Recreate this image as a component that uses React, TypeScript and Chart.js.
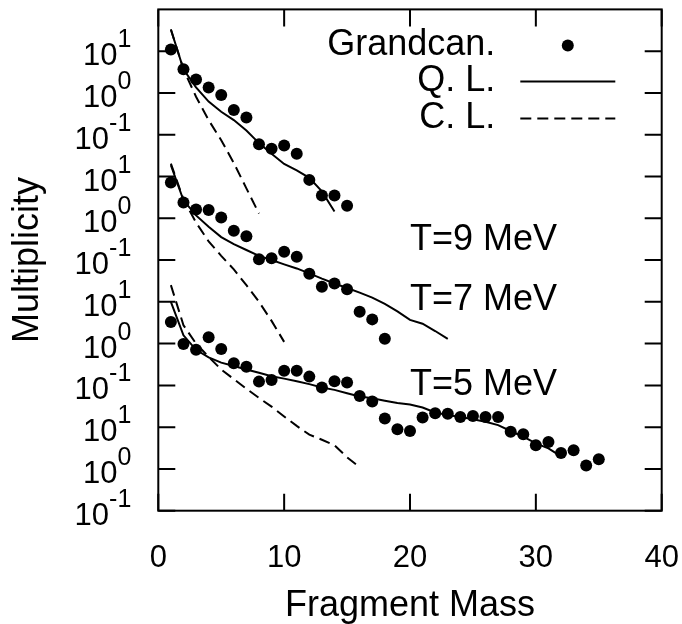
import React, { useEffect, useRef } from "react";
import { Chart, registerables } from "chart.js";

Chart.register(...registerables);

const FONT = "'Liberation Sans', Arial, Helvetica, sans-serif";

// Fragment masses (x categories)
const MASS = [1, 2, 3, 4, 5, 6, 7, 8, 9, 10, 11, 12, 13, 14, 15, 16, 17, 18, 19, 20, 21, 22, 23, 24, 25, 26, 27, 28, 29, 30, 31, 32, 33, 34, 35];

// Stacking factors that separate the three temperatures on the one log axis
const STACK_T9 = 1e10;
const STACK_T7 = 1e7;
const STACK_T5 = 1e4;

// T = 9 MeV
const GRANDCAN_T9 = [11, 3.7, 2.1, 1.35, 0.89, 0.39, 0.26, 0.059, 0.046, 0.055, 0.035, 0.0083, 0.0035, 0.0035, 0.002];
const QL_T9 = [33, 3.7, 1.35, 0.62, 0.355, 0.224, 0.126, 0.063, 0.035, 0.02, 0.014, 0.0093, 0.0044, 0.00145];
const CL_T9 = [33, 3.7, 0.81, 0.224, 0.074, 0.021, 0.0052, 0.0013];

// T = 7 MeV
const GRANDCAN_T7 = [7.2, 2.4, 1.62, 1.58, 1.05, 0.5, 0.37, 0.105, 0.11, 0.158, 0.12, 0.047, 0.023, 0.0275, 0.02, 0.0058, 0.0038, 0.0013];
const QL_T7 = [18.6, 2.69, 1.17, 0.63, 0.355, 0.24, 0.174, 0.126, 0.1, 0.079, 0.063, 0.048, 0.036, 0.0275, 0.0214, 0.0166, 0.0126, 0.0089, 0.0059, 0.0037, 0.003, 0.002, 0.0013];
const CL_T7 = [20.4, 2.82, 0.79, 0.28, 0.126, 0.06, 0.025, 0.01, 0.0035, 0.0011];

// T = 5 MeV
const GRANDCAN_T5 = [3.3, 0.98, 0.71, 1.41, 0.74, 0.34, 0.28, 0.123, 0.135, 0.224, 0.224, 0.162, 0.089, 0.126, 0.117, 0.056, 0.041, 0.0162, 0.0089, 0.0081, 0.017, 0.0214, 0.0209, 0.0174, 0.0186, 0.0174, 0.0174, 0.0078, 0.0068, 0.0037, 0.0044, 0.0024, 0.0028, 0.0012, 0.0017];
const QL_T5 = [10, 1.58, 0.71, 0.47, 0.35, 0.29, 0.24, 0.2, 0.166, 0.145, 0.126, 0.107, 0.089, 0.078, 0.065, 0.054, 0.049, 0.043, 0.038, 0.035, 0.0295, 0.0224, 0.0195, 0.0174, 0.0155, 0.0135, 0.0112, 0.0081, 0.0059, 0.0041, 0.0031, 0.002];
const CL_T5 = [25.1, 2.75, 1.0, 0.48, 0.24, 0.141, 0.083, 0.05, 0.031, 0.018, 0.0107, 0.0066, 0.005, 0.0037, 0.0019, 0.0011];

// Axis ticks
const X_TICKS = [0, 10, 20, 30, 40];
const Y_TICK_VALUES = [1, 1e1, 1e2, 1e3, 1e4, 1e5, 1e6, 1e7, 1e8, 1e9, 1e10, 1e11];
const Y_TICK_EXPONENTS = ["-1", "0", "1", "-1", "0", "1", "-1", "0", "1", "-1", "0", "1"];

// Legend and panel labels
const LEGEND_LABELS = ["Grandcan.", "Q. L.", "C. L."];
const TEMP_LABELS = ["T=9 MeV", "T=7 MeV", "T=5 MeV"];
const TEMP_LABEL_AT = [
  { x: 20, y: 2.95e6 },
  { x: 20, y: 1.1e5 },
  { x: 20, y: 1.02e3 },
];

function toPoints(values: number[], stack: number) {
  return values.map((v, i) => ({ x: MASS[i], y: v * stack }));
}

const DASH = [11, 6];

const gnuplotDecor = {
  id: "gnuplotDecor",
  afterDatasetsDraw(chart: any) {
    const { ctx, chartArea: a, scales } = chart;
    const xs = scales.x;
    const ys = scales.y;
    ctx.save();
    ctx.strokeStyle = "#000";
    ctx.fillStyle = "#000";
    ctx.lineWidth = 2;
    ctx.setLineDash([]);
    // border
    ctx.strokeRect(a.left, a.top, a.right - a.left, a.bottom - a.top);
    // inward ticks, mirrored
    const TL = 17;
    ctx.beginPath();
    ys.ticks.forEach((t: any) => {
      const y = ys.getPixelForValue(t.value);
      ctx.moveTo(a.left, y);
      ctx.lineTo(a.left + TL, y);
      ctx.moveTo(a.right, y);
      ctx.lineTo(a.right - TL, y);
    });
    xs.ticks.forEach((t: any) => {
      const x = xs.getPixelForValue(t.value);
      ctx.moveTo(x, a.bottom);
      ctx.lineTo(x, a.bottom - TL);
      ctx.moveTo(x, a.top);
      ctx.lineTo(x, a.top + TL);
    });
    ctx.stroke();

    // y tick labels 10^n
    const mainFont = `31px ${FONT}`;
    const supFont = `25px ${FONT}`;
    const R = a.left - 27;
    ctx.textBaseline = "alphabetic";
    ctx.textAlign = "left";
    ys.ticks.forEach((t: any, k: number) => {
      const y = ys.getPixelForValue(t.value);
      const exp = Y_TICK_EXPONENTS[k];
      if (exp === undefined) return;
      ctx.font = supFont;
      const ws = ctx.measureText(exp).width;
      ctx.font = mainFont;
      const wm = ctx.measureText("10").width;
      const x0 = R - ws - wm;
      ctx.fillText("10", x0, y + 14);
      ctx.font = supFont;
      ctx.fillText(exp, x0 + wm, y - 4);
    });

    // legend (gnuplot style: text, then sample)
    const big = `36px ${FONT}`;
    ctx.font = big;
    ctx.textAlign = "right";
    ctx.textBaseline = "middle";
    const textRight = a.left + 337;
    const sx0 = a.left + 362;
    const sx1 = a.left + 457;
    const rows = [a.top + 36, a.top + 72, a.top + 109];
    LEGEND_LABELS.forEach((lab, i) => {
      ctx.fillText(lab, textRight, rows[i]);
    });
    ctx.beginPath();
    ctx.arc((sx0 + sx1) / 2, rows[0], 6, 0, Math.PI * 2);
    ctx.fill();
    ctx.beginPath();
    ctx.moveTo(sx0, rows[1]);
    ctx.lineTo(sx1, rows[1]);
    ctx.stroke();
    ctx.setLineDash(DASH);
    ctx.beginPath();
    ctx.moveTo(sx0, rows[2]);
    ctx.lineTo(sx1, rows[2]);
    ctx.stroke();
    ctx.setLineDash([]);

    // temperature labels
    ctx.textAlign = "left";
    TEMP_LABELS.forEach((lab, i) => {
      const p = TEMP_LABEL_AT[i];
      ctx.fillText(lab, xs.getPixelForValue(p.x), ys.getPixelForValue(p.y));
    });
    ctx.restore();
  },
};

export default function App() {
  const ref = useRef<HTMLCanvasElement | null>(null);
  useEffect(() => {
    if (!ref.current) return;
    const pointStyle = {
      showLine: false,
      pointRadius: 6,
      pointHoverRadius: 6,
      pointBackgroundColor: "#000",
      pointBorderWidth: 0,
      borderColor: "#000",
    };
    const solid = {
      showLine: true,
      pointRadius: 0,
      borderColor: "#000",
      borderWidth: 2,
      tension: 0,
    };
    const dashed = { ...solid, borderDash: DASH };
    const chart = new Chart(ref.current, {
      type: "scatter",
      data: {
        datasets: [
          { label: "Grandcan. T=9", data: toPoints(GRANDCAN_T9, STACK_T9), ...pointStyle },
          { label: "Q. L. T=9", data: toPoints(QL_T9, STACK_T9), ...solid },
          { label: "C. L. T=9", data: toPoints(CL_T9, STACK_T9), ...dashed },
          { label: "Grandcan. T=7", data: toPoints(GRANDCAN_T7, STACK_T7), ...pointStyle },
          { label: "Q. L. T=7", data: toPoints(QL_T7, STACK_T7), ...solid },
          { label: "C. L. T=7", data: toPoints(CL_T7, STACK_T7), ...dashed },
          { label: "Grandcan. T=5", data: toPoints(GRANDCAN_T5, STACK_T5), ...pointStyle },
          { label: "Q. L. T=5", data: toPoints(QL_T5, STACK_T5), ...solid },
          { label: "C. L. T=5", data: toPoints(CL_T5, STACK_T5), ...dashed },
        ] as any,
      },
      options: {
        animation: false,
        responsive: false,
        devicePixelRatio: 1,
        layout: { padding: { top: 9.4, right: 20.3, bottom: 0, left: 0 } },
        plugins: { legend: { display: false }, tooltip: { enabled: false } },
        scales: {
          x: {
            type: "linear",
            min: 0,
            max: 40,
            grid: { display: false, drawTicks: false },
            border: { display: false },
            afterBuildTicks: (s: any) => {
              s.ticks = X_TICKS.map((v) => ({ value: v }));
            },
            afterFit: (s: any) => {
              s.height = 113.3;
              s.paddingLeft = 0;
              s.paddingRight = 0;
            },
            ticks: {
              color: "#000",
              font: { family: FONT, size: 31 },
              padding: 29,
              maxRotation: 0,
              autoSkip: false,
            },
            title: {
              display: true,
              text: "Fragment Mass",
              color: "#000",
              font: { family: FONT, size: 36 },
              padding: { top: 0, bottom: -4 },
            },
          },
          y: {
            type: "logarithmic",
            min: 1,
            max: 1e12,
            grid: { display: false, drawTicks: false },
            border: { display: false },
            afterBuildTicks: (s: any) => {
              s.ticks = Y_TICK_VALUES.map((v) => ({ value: v }));
            },
            afterFit: (s: any) => {
              s.width = 158.3;
              s.paddingTop = 0;
              s.paddingBottom = 0;
            },
            ticks: { display: false },
            title: {
              display: true,
              text: "Multiplicity",
              color: "#000",
              font: { family: FONT, size: 36 },
              padding: { top: 6, bottom: 0 },
            },
          },
        },
      } as any,
      plugins: [gnuplotDecor],
    });
    return () => chart.destroy();
  }, []);
  return (
    <div style={{ position: "absolute", left: 0, top: 0, width: 682, height: 624, background: "#fff" }}>
      <canvas ref={ref} width={682} height={624} style={{ width: 682, height: 624, display: "block" }} />
    </div>
  );
}
